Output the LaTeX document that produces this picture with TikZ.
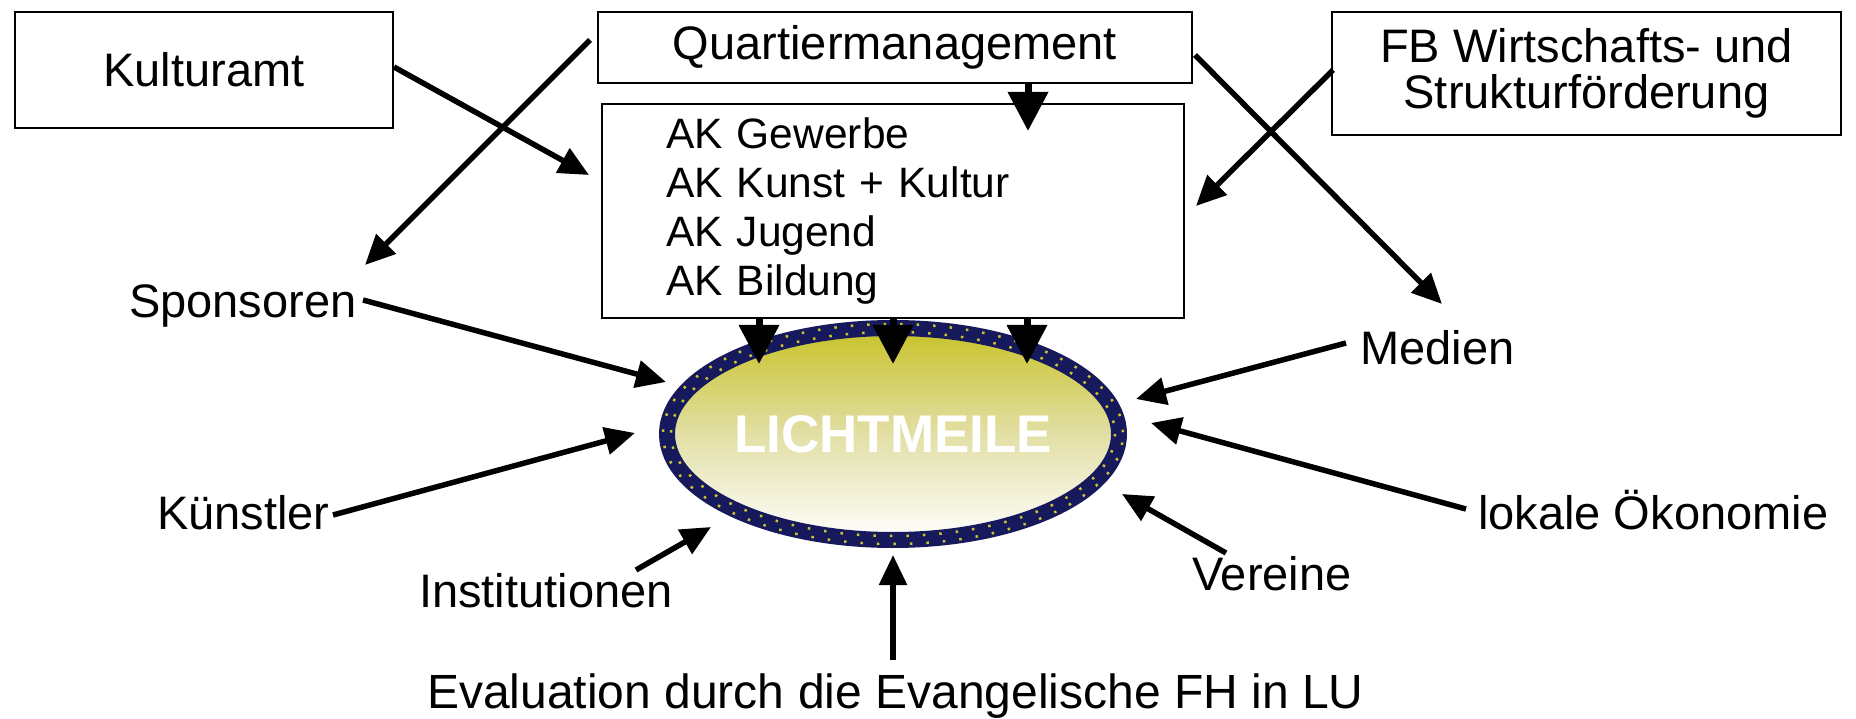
\documentclass[tikz,border=0pt]{standalone}
\usepackage{fontspec}
\setmainfont{Liberation Sans}
\usetikzlibrary{arrows.meta,shapes.geometric}
\definecolor{navy}{RGB}{22,26,92}
\definecolor{olivetop}{RGB}{200,194,40}
\definecolor{olivemid}{RGB}{226,223,165}
\definecolor{dotyellow}{RGB}{205,195,45}
\begin{document}
\begin{tikzpicture}[x=1pt,y=-1pt,
  box/.style={draw=black, line width=2pt, inner sep=0pt, fill=white, font=\fontsize{47}{46}\selectfont},
  lbl/.style={font=\fontsize{47}{54}\selectfont, inner sep=0pt, anchor=base west},
  arr/.style={line width=5.5pt, -{Triangle[length=30pt,width=27pt]}},
  bigarr/.style={line width=7pt, -{Triangle[length=39pt,width=39pt]}}
]
\useasboundingbox (0,0) rectangle (1856,719);

% boxes
\node[box, minimum width=378pt, minimum height=116pt] (kult) at (204,70) {Kulturamt};
\node[box, minimum width=594pt, minimum height=71pt] (qm) at (895,47.5) {Quartiermanagement};
\node[box, minimum height=214pt, text width=454pt, align=left, inner xsep=64pt,
      font=\fontsize{42.5}{48.7}\selectfont] (ak) at (893,211)
      {AK Gewerbe\\AK Kunst + Kultur\\AK Jugend\\AK Bildung};
\node[box, minimum width=509pt, minimum height=123pt, align=center] (fb) at (1586.5,73.5)
      {FB Wirtschafts- und\\Strukturförderung};

% ellipse
\node[ellipse, draw=navy, line width=16pt, minimum width=452pt, minimum height=212pt, inner sep=0pt,
      top color=olivetop, bottom color=white, middle color=olivemid,
      font=\bfseries\fontsize{53}{60}\selectfont, text=white] (ell) at (893,434) {LICHTMEILE};
\draw[dotyellow, line width=2.5pt, dash pattern=on 2.5pt off 14pt] (ell.center) ellipse [x radius=222, y radius=102];
\draw[dotyellow, line width=2.5pt, dash pattern=on 2.5pt off 14pt, dash phase=8pt] (ell.center) ellipse [x radius=230, y radius=110];

% labels
\node[lbl] (spons) at (129,318) {Sponsoren};
\node[lbl] (kuen) at (157,529) {Künstler};
\node[lbl] (inst) at (419,607) {Institutionen};
\node[lbl, font=\fontsize{48}{54}\selectfont] (eval) at (427,708) {Evaluation durch die Evangelische FH in LU};
\node[lbl] (ver) at (1192,590) {Vereine};
\node[lbl] (lok) at (1478,529) {lokale Ökonomie};
\node[lbl] (med) at (1360,364) {Medien};

% connector end points
\coordinate (kultOut) at (394,67);   \coordinate (akKult) at (589,175);
\coordinate (qmLeft) at (590,40);    \coordinate (sponsTop) at (365,265);
\coordinate (qmBot) at (1028,83);    \coordinate (akTop) at (1028,131);
\coordinate (qmRight) at (1195,55);  \coordinate (medTop) at (1442,304);
\coordinate (fbLeft) at (1333,70);   \coordinate (akFb) at (1196,206);
\coordinate (sponsOut) at (363,300); \coordinate (ellSpons) at (666,382);
\coordinate (kuenOut) at (333,515);  \coordinate (ellKuen) at (635,433);
\coordinate (instOut) at (636,570);  \coordinate (ellInst) at (711,527);
\coordinate (evalOut) at (893,660);  \coordinate (ellEval) at (893,555);
\coordinate (verOut) at (1226,553);  \coordinate (ellVer) at (1122,494);
\coordinate (lokOut) at (1466,509);  \coordinate (ellLok) at (1151,423);
\coordinate (medOut) at (1346,343);  \coordinate (ellMed) at (1136,399);
\coordinate (akB1) at (759,318);     \coordinate (ellT1) at (759,364);
\coordinate (akB2) at (893,318);     \coordinate (ellT2) at (893,364);
\coordinate (akB3) at (1027,318);    \coordinate (ellT3) at (1027,364);

% connectors
\draw[arr] (kultOut) -- (akKult);
\draw[arr] (qmLeft) -- (sponsTop);
\draw[bigarr] (qmBot) -- (akTop);
\draw[arr] (qmRight) -- (medTop);
\draw[arr] (fbLeft) -- (akFb);
\draw[arr] (sponsOut) -- (ellSpons);
\draw[arr] (kuenOut) -- (ellKuen);
\draw[arr] (instOut) -- (ellInst);
\draw[arr] (evalOut) -- (ellEval);
\draw[arr] (verOut) -- (ellVer);
\draw[arr] (lokOut) -- (ellLok);
\draw[arr] (medOut) -- (ellMed);
\draw[bigarr] (akB1) -- (ellT1);
\draw[bigarr] (akB2) -- (ellT2);
\draw[bigarr] (akB3) -- (ellT3);
\end{tikzpicture}
\end{document}
